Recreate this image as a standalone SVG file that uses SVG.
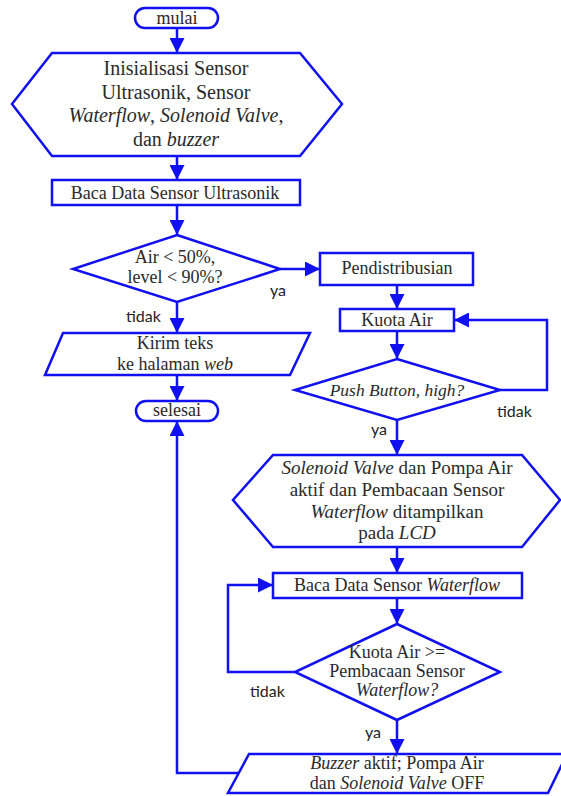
<svg xmlns="http://www.w3.org/2000/svg" width="561" height="796" viewBox="0 0 561 796">
<style>
.s{fill:#fff;stroke:#1010f0;stroke-width:2.5;stroke-linejoin:miter}
.c{fill:none;stroke:#1010f0;stroke-width:2.5}
.t{font-family:'Liberation Serif','Times New Roman',serif;font-size:18px;fill:#2a2a2a;text-anchor:middle}
.h1{font-size:20px}
.h2{font-size:19px}
.pb{font-size:17.5px}
.i{font-style:italic}
.l{font-family:Lato,'Open Sans',sans-serif;font-size:16px;fill:#222}
</style>
<defs>
<marker id="ah" markerWidth="15" markerHeight="15" refX="15" refY="7.5" orient="auto" markerUnits="userSpaceOnUse">
<path d="M0,0 L15,7.5 L0,15 Z" fill="#1010f0"/>
</marker>
</defs>
<rect width="561" height="796" fill="#fff"/>
<g id="connectors">
<path class="c" d="M177,28 V53" marker-end="url(#ah)"/>
<path class="c" d="M177,156 V180" marker-end="url(#ah)"/>
<path class="c" d="M177,205 V235" marker-end="url(#ah)"/>
<path class="c" d="M280,269 H320" marker-end="url(#ah)"/>
<path class="c" d="M177,302 V333" marker-end="url(#ah)"/>
<path class="c" d="M177,375 V401" marker-end="url(#ah)"/>
<path class="c" d="M397,285 V309" marker-end="url(#ah)"/>
<path class="c" d="M397,331 V359" marker-end="url(#ah)"/>
<path class="c" d="M500,390 H547 V320 H454" marker-end="url(#ah)"/>
<path class="c" d="M397,420 V455" marker-end="url(#ah)"/>
<path class="c" d="M397,547 V573" marker-end="url(#ah)"/>
<path class="c" d="M397,598 V624" marker-end="url(#ah)"/>
<path class="c" d="M295,672 H228 V585 H273" marker-end="url(#ah)"/>
<path class="c" d="M397,720 V754" marker-end="url(#ah)"/>
<path class="c" d="M239,773 H177 V421" marker-end="url(#ah)"/>
<text class="l" x="270" y="296">ya</text>
<text class="l" x="126" y="322">tidak</text>
<text class="l" x="497" y="417">tidak</text>
<text class="l" x="371" y="435">ya</text>
<text class="l" x="250" y="697">tidak</text>
<text class="l" x="365" y="738">ya</text>
</g>
<g id="mulai">
<rect class="s" x="135" y="8" width="83" height="20" rx="10"/>
<text class="t" x="177" y="24">mulai</text>
</g>
<g id="inisialisasi">
<polygon class="s" points="52,53 300,53 342,104 300,156 52,156 12,104"/>
<text class="t h1" x="176" y="75">Inisialisasi Sensor</text>
<text class="t h1" x="176" y="98.5">Ultrasonik, Sensor</text>
<text class="t h1" x="176" y="122"><tspan class="i">Waterflow</tspan>, <tspan class="i">Solenoid Valve</tspan>,</text>
<text class="t h1" x="176" y="145.5">dan <tspan class="i">buzzer</tspan></text>
</g>
<g id="baca-ultrasonik">
<rect class="s" x="52" y="180" width="248" height="25"/>
<text class="t" x="175" y="199">Baca Data Sensor Ultrasonik</text>
</g>
<g id="cek-air">
<polygon class="s" points="177,235 280,269 177,302 73,269"/>
<text class="t" x="175" y="263">Air &lt; 50%,</text>
<text class="t" x="175" y="283">level &lt; 90%?</text>
</g>
<g id="pendistribusian">
<rect class="s" x="320" y="253" width="153" height="32"/>
<text class="t" x="397" y="274">Pendistribusian</text>
</g>
<g id="kirim-teks">
<polygon class="s" points="63,333 310,333 290,375 45,375"/>
<text class="t" x="175" y="349">Kirim teks</text>
<text class="t" x="175" y="370">ke halaman <tspan class="i">web</tspan></text>
</g>
<g id="selesai">
<rect class="s" x="136" y="401" width="82" height="20" rx="10"/>
<text class="t" x="177" y="416">selesai</text>
</g>
<g id="kuota-air">
<rect class="s" x="340" y="309" width="114" height="22"/>
<text class="t" x="397" y="326">Kuota Air</text>
</g>
<g id="push-button">
<polygon class="s" points="397,359 500,390 397,420 295,390"/>
<text class="t i pb" x="397" y="396">Push Button, high?</text>
</g>
<g id="solenoid-aktif">
<polygon class="s" points="273,455 522,455 560,500 522,547 273,547 233,500"/>
<text class="t h2" x="397" y="474"><tspan class="i">Solenoid Valve</tspan> dan Pompa Air</text>
<text class="t h2" x="397" y="496">aktif dan Pembacaan Sensor</text>
<text class="t h2" x="397" y="518"><tspan class="i">Waterflow</tspan> ditampilkan</text>
<text class="t h2" x="397" y="539">pada <tspan class="i">LCD</tspan></text>
</g>
<g id="baca-waterflow">
<rect class="s" x="273" y="573" width="249" height="25"/>
<text class="t" x="397" y="591">Baca Data Sensor <tspan class="i">Waterflow</tspan></text>
</g>
<g id="cek-kuota">
<polygon class="s" points="397,624 500,672 397,720 295,672"/>
<text class="t" x="397" y="658">Kuota Air &gt;=</text>
<text class="t" x="397" y="677">Pembacaan Sensor</text>
<text class="t i" x="397" y="696">Waterflow?</text>
</g>
<g id="buzzer-aktif">
<polygon class="s" points="249,754 567,754 548,793 228,793"/>
<text class="t" x="397" y="769"><tspan class="i">Buzzer</tspan> aktif; Pompa Air</text>
<text class="t" x="397" y="789">dan <tspan class="i">Solenoid Valve</tspan> OFF</text>
</g>
</svg>
